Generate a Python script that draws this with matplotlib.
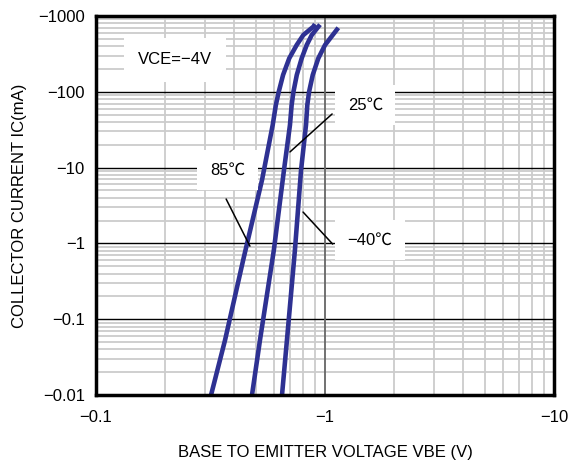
import matplotlib
matplotlib.use("Agg")
import matplotlib.pyplot as plt
from matplotlib.ticker import FixedLocator, LogLocator, NullFormatter

plt.rcParams["font.family"] = ["Liberation Sans", "Noto Sans CJK JP", "DejaVu Sans"]

# |VBE| (V) vs |IC| (mA)
vbe_85 = [0.318, 0.366, 0.439, 0.531, 0.591, 0.610, 0.628, 0.656, 0.698, 0.752, 0.804, 0.889, 0.904]
ic_85 = [0.01, 0.053, 0.60, 6.9, 36.5, 67, 100, 167, 277, 414, 561, 723, 783]

vbe_25 = [0.480, 0.520, 0.598, 0.662, 0.703, 0.715, 0.728, 0.753, 0.791, 0.832, 0.875, 0.951]
ic_25 = [0.01, 0.053, 0.82, 9.3, 36.5, 67, 100, 167, 277, 414, 561, 770]

vbe_m40 = [0.649, 0.682, 0.739, 0.786, 0.826, 0.837, 0.852, 0.884, 0.935, 1.0, 1.143]
ic_m40 = [0.01, 0.053, 0.82, 9.3, 36.5, 67, 100, 167, 277, 414, 700]

x_ticks = [0.1, 1, 10]
x_labels = ["\u22120.1", "\u22121", "\u221210"]
y_ticks = [0.01, 0.1, 1, 10, 100, 1000]
y_labels = ["\u22120.01", "\u22120.1", "\u22121", "\u221210", "\u2212100", "\u22121000"]

BLUE = "#2e3192"

fig = plt.figure(figsize=(5.76, 4.67), dpi=100)
ax = fig.add_axes([0.1667, 0.1542, 0.7951, 0.8115])
ax.set_xscale("log")
ax.set_yscale("log")
ax.set_xlim(0.1, 10)
ax.set_ylim(0.01, 1000)

# grid: light gray minors, black decade lines, gray line at -1 V
ax.xaxis.set_minor_locator(LogLocator(base=10, subs=range(2, 10)))
ax.yaxis.set_minor_locator(LogLocator(base=10, subs=range(2, 10)))
ax.xaxis.set_minor_formatter(NullFormatter())
ax.yaxis.set_minor_formatter(NullFormatter())
ax.grid(which="minor", color="#cccccc", linewidth=1.3)
ax.grid(which="major", axis="y", color="black", linewidth=1.0)
ax.axvline(1, color="#666666", linewidth=1.3, zorder=2)

ax.xaxis.set_major_locator(FixedLocator(x_ticks))
ax.set_xticklabels(x_labels, fontsize=12)
ax.yaxis.set_major_locator(FixedLocator(y_ticks))
ax.set_yticklabels(y_labels, fontsize=12)
ax.tick_params(which="both", length=0)
ax.tick_params(axis="x", pad=11)
ax.tick_params(axis="y", pad=8)

for s in ax.spines.values():
    s.set_linewidth(2.5)
    s.set_zorder(6)

for v, i in [(vbe_85, ic_85), (vbe_25, ic_25), (vbe_m40, ic_m40)]:
    ax.plot(v, i, color=BLUE, linewidth=3.3, solid_capstyle="butt",
            solid_joinstyle="round", zorder=3)

box = dict(boxstyle="square,pad=0.85", facecolor="white", edgecolor="none")
ax.text(0.221, 263, "VCE=\u22124V", fontsize=12, ha="center", va="center", bbox=box, zorder=4)

# label pointers
line = dict(arrowstyle="-", color="black", linewidth=1.1, shrinkA=0, shrinkB=0)
ax.annotate("", xy=(0.703, 16.1), xytext=(1.074, 51), arrowprops=line, zorder=4)
ax.annotate("", xy=(0.470, 0.92), xytext=(0.370, 3.85), arrowprops=line, zorder=4)
ax.annotate("", xy=(0.802, 2.59), xytext=(1.08, 0.98), arrowprops=line, zorder=4)

lbox = dict(boxstyle="square,pad=0.75", facecolor="white", edgecolor="none")
ax.text(1.50, 67, "25\u2103", fontsize=12, ha="center", va="center", bbox=lbox, zorder=5)
ax.text(0.375, 9.3, "85\u2103", fontsize=12, ha="center", va="center", bbox=lbox, zorder=5)
ax.text(1.57, 1.11, "\u221240\u2103", fontsize=12, ha="center", va="center", bbox=lbox, zorder=5)

ax.set_xlabel("BASE TO EMITTER VOLTAGE VBE (V)", fontsize=12, labelpad=14)
ax.set_ylabel("COLLECTOR CURRENT IC(mA)", fontsize=12, labelpad=8)

fig.savefig("out.png", dpi=100)
